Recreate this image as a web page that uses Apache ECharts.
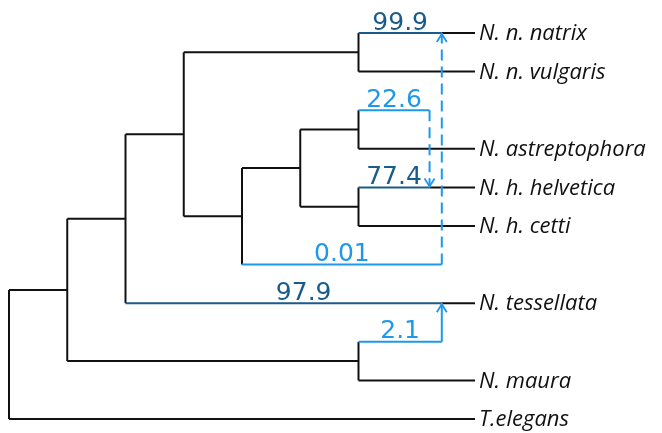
<!DOCTYPE html>
<html>
<head>
<meta charset="utf-8">
<script src="https://cdn.jsdelivr.net/npm/echarts@6/dist/echarts.min.js"></script>
<style>
  html, body { margin: 0; padding: 0; background: #fff; }
  #main { width: 662px; height: 433px; }
</style>
</head>
<body>
<div id="main"></div>
<script>
// leaves, top to bottom (rows on the y axis)
var leafNames = ['N. n. natrix', 'N. n. vulgaris', 'N. astreptophora', 'N. h. helvetica',
                 'N. h. cetti', 'N. tessellata', 'N. maura', 'T.elegans'];
var leafRows = [0, 1, 3, 4, 5, 7, 9, 10];
var tipDepth = 8;

// internal nodes: depth + children (L = leaf, M = migration stub, N = node)
var nodeDepth = [6, 6, 6, 5, 4, 3, 2, 6, 1, 0];
var nodeChildren = [
  ['L0', 'L1'], ['M0', 'L2'], ['L3', 'L4'], ['N1', 'N2'], ['N3', 'M1'],
  ['N0', 'N4'], ['N5', 'L5'], ['M2', 'L6'], ['N6', 'N7'], ['N8', 'L7']
];

// migration edges
var migRows = [2, 6, 8];
var migEnd = [7.22, 7.43, 7.43];
var migTarget = [3, 0, 5];          // leaf index
var migLabel = ['22.6', '0.01', '2.1'];
var migDashed = [true, true, false];
var targetLabel = ['77.4', '99.9', '97.9'];

var BLACK = '#111', DARK = '#185b8c', LIGHT = '#1d98ea';
var labelShift = [0, 0, 20]; // px nudge of the target weight labels

function rowOf(id) {
  var k = +id.slice(1);
  if (id[0] === 'L') return leafRows[k];
  if (id[0] === 'M') return migRows[k];
  var ch = nodeChildren[k];
  return (rowOf(ch[0]) + rowOf(ch[ch.length - 1])) / 2;
}
function depthOf(id) {
  var k = +id.slice(1);
  if (id[0] === 'L') return tipDepth;
  if (id[0] === 'M') return migEnd[k];
  return nodeDepth[k];
}
function parentDepth(id) {
  for (var i = 0; i < nodeChildren.length; i++) {
    if (nodeChildren[i].indexOf(id) >= 0) return nodeDepth[i];
  }
}

// build segments in data units
var segs = [];
nodeChildren.forEach(function (ch, i) {
  var d = nodeDepth[i];
  segs.push({ a: [d, rowOf(ch[0])], b: [d, rowOf(ch[ch.length - 1])], c: BLACK });
  ch.forEach(function (id) {
    var r = rowOf(id), k = +id.slice(1);
    if (id[0] === 'M') {
      segs.push({ a: [d, r], b: [migEnd[k], r], c: LIGHT });
    } else if (id[0] === 'L' && migTarget.indexOf(k) >= 0) {
      var m = migTarget.indexOf(k);
      segs.push({ a: [d, r], b: [migEnd[m], r], c: DARK });
      segs.push({ a: [migEnd[m], r], b: [tipDepth, r], c: BLACK });
    } else {
      segs.push({ a: [d, r], b: [depthOf(id), r], c: BLACK });
    }
  });
});

var chart = echarts.init(document.getElementById('main'));

function renderTree(params, api) {
  var kids = [];
  segs.forEach(function (s) {
    var p1 = api.coord(s.a), p2 = api.coord(s.b);
    kids.push({ type: 'line', shape: { x1: p1[0], y1: p1[1], x2: p2[0], y2: p2[1] },
      style: { stroke: s.c, lineWidth: 2 } });
  });
  // migration arrows
  migRows.forEach(function (r, i) {
    var p1 = api.coord([migEnd[i], r]);
    var p2 = api.coord([migEnd[i], leafRows[migTarget[i]]]);
    var dir = p1[1] > p2[1] ? 1 : -1;
    kids.push({ type: 'line', shape: { x1: p1[0], y1: p1[1], x2: p2[0], y2: p2[1] },
      style: { stroke: LIGHT, lineWidth: 2, lineDash: migDashed[i] ? [11, 6] : null } });
    kids.push({ type: 'polyline',
      shape: { points: [[p2[0] - 5, p2[1] + 9 * dir], [p2[0], p2[1] + 1 * dir], [p2[0] + 5, p2[1] + 9 * dir]] },
      style: { stroke: LIGHT, lineWidth: 1.8, fill: null } });
    // weight labels
    var s1 = api.coord([parentDepth('M' + i), r]);
    kids.push({ type: 'text', x: (s1[0] + p1[0]) / 2, y: p1[1] - 10,
      style: { text: migLabel[i], fill: LIGHT, font: '25px "DejaVu Sans"', align: 'center', verticalAlign: 'middle' } });
    var t = migTarget[i];
    var s2 = api.coord([parentDepth('L' + t), leafRows[t]]);
    kids.push({ type: 'text', x: (s2[0] + p2[0]) / 2 + labelShift[i], y: p2[1] - 10,
      style: { text: targetLabel[i], fill: DARK, font: '25px "DejaVu Sans"', align: 'center', verticalAlign: 'middle' } });
  });
  // leaf names
  leafNames.forEach(function (n, i) {
    var p = api.coord([tipDepth, leafRows[i]]);
    kids.push({ type: 'text', x: p[0] + 4, y: p[1] + 1,
      style: { text: n, fill: '#111', font: 'italic 22px "Open Sans"', align: 'left', verticalAlign: 'middle' } });
  });
  return { type: 'group', children: kids };
}

var option = {
  animation: false,
  grid: { left: 9, top: 33, width: 466, height: 386 },
  xAxis: { type: 'value', min: 0, max: tipDepth, show: false },
  yAxis: { type: 'value', min: 0, max: 10, inverse: true, show: false },
  series: [{
    type: 'custom',
    clip: false,
    renderItem: renderTree,
    data: [[0, 0]]
  }]
};
chart.setOption(option);
</script>
</body>
</html>
